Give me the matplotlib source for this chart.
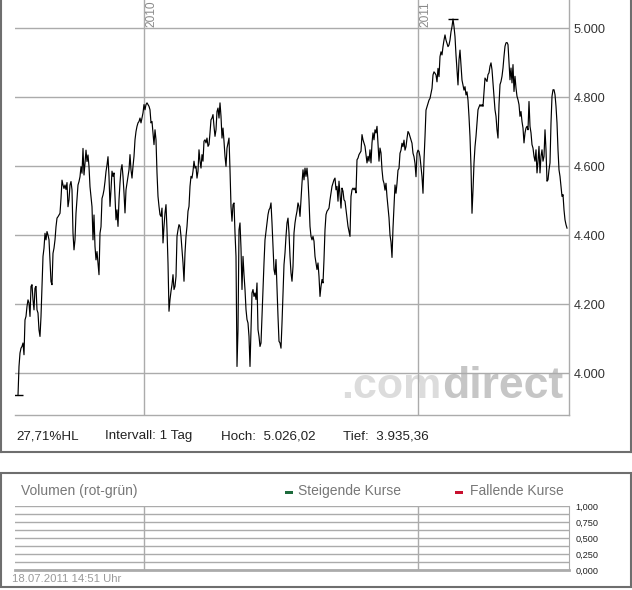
import numpy as np
import pandas as pd
import matplotlib
matplotlib.use("Agg")
import matplotlib.pyplot as plt
import matplotlib.dates as mdates
from matplotlib.patches import Rectangle
from matplotlib.lines import Line2D
from matplotlib.ticker import FixedLocator, FuncFormatter

# ---------------- data (closing prices) ----------------
close_part1 = [3935, 4019, 4058, 4072, 4077, 4087, 4053, 4154, 4164, 4193,
               4212, 4203, 4164, 4251, 4256, 4212, 4183, 4246, 4251, 4183,
               4174, 4125, 4106, 4164, 4251, 4338, 4362, 4405, 4386, 4410,
               4400, 4386, 4328, 4265, 4256, 4347, 4362, 4386, 4424, 4449,
               4453, 4458, 4463, 4506, 4559, 4545, 4535, 4545, 4532, 4552,
               4482, 4502, 4545, 4555, 4531, 4405, 4357, 4386, 4463, 4502,
               4545, 4555, 4569, 4598, 4579, 4651, 4574, 4608, 4646, 4613,
               4632, 4598, 4540, 4511, 4482, 4386, 4458, 4367, 4328, 4352,
               4318, 4285, 4405, 4424, 4506, 4516, 4531, 4555, 4584, 4603,
               4627]
close_part2 = [4570, 4483, 4531, 4585, 4570, 4580, 4512, 4444, 4473, 4425,
               4502, 4551, 4589, 4604, 4570, 4522, 4464, 4531, 4551, 4570,
               4589, 4633, 4589, 4565, 4599, 4628, 4676, 4700, 4715, 4725,
               4729, 4739, 4725, 4739, 4754, 4778, 4763, 4778, 4783, 4778,
               4773, 4763, 4725, 4729, 4696, 4662, 4705, 4676, 4580, 4512,
               4483, 4459, 4454, 4478, 4377, 4425, 4464, 4488, 4415, 4319,
               4179, 4213, 4237, 4256, 4285, 4242, 4251, 4280, 4396, 4415,
               4430, 4425, 4396, 4357, 4319, 4266, 4348, 4396, 4425, 4469,
               4483, 4541, 4570, 4565, 4585, 4614, 4594, 4599, 4565, 4585,
               4647]
close_part3 = [4614, 4594, 4633, 4614, 4672, 4676, 4667, 4681, 4657, 4662,
               4696, 4734, 4739, 4749, 4715, 4686, 4705, 4758, 4768, 4739,
               4783, 4744, 4681, 4710, 4672, 4628, 4599, 4652, 4667, 4681,
               4589, 4483, 4440, 4488, 4493, 4406, 4338, 4019, 4126, 4415,
               4435, 4362, 4242, 4338, 4285, 4242, 4184, 4155, 4145, 4106,
               4019, 4126, 4232, 4242, 4222, 4232, 4213, 4261, 4126, 4106,
               4077, 4087, 4164, 4242, 4319, 4386, 4411, 4435, 4459, 4473,
               4478, 4493, 4435, 4367, 4300, 4285, 4329, 4242, 4164, 4092,
               4087, 4072, 4145, 4232, 4314, 4348, 4396, 4435, 4449, 4406,
               4338, 4290]
close_part4 = [4266, 4309, 4406, 4435, 4454, 4469, 4493, 4483, 4454, 4502,
               4551, 4589, 4560, 4594, 4570, 4594, 4560, 4502, 4425, 4396,
               4386, 4396, 4382, 4338, 4319, 4300, 4319, 4280, 4222, 4251,
               4271, 4261, 4329, 4415, 4459, 4469, 4473, 4478, 4502, 4522,
               4541, 4551, 4560, 4565, 4531, 4541, 4498, 4556, 4517, 4478,
               4536, 4527, 4502, 4498, 4473, 4449, 4425, 4411, 4396, 4512,
               4531, 4536, 4531, 4536, 4522, 4618, 4623, 4633, 4638, 4643,
               4691, 4676, 4667, 4657, 4633, 4609, 4628, 4614, 4647, 4609,
               4667, 4696, 4676, 4705, 4696, 4715, 4662, 4614, 4652, 4638,
               4589, 4560]
close_part5 = [4550, 4530, 4550, 4511, 4482, 4450, 4400, 4380, 4335, 4420,
               4480, 4545, 4521, 4550, 4588, 4593, 4637, 4646, 4666, 4656,
               4675, 4646, 4656, 4680, 4700, 4695, 4685, 4675, 4666, 4637,
               4627, 4608, 4569, 4637, 4646, 4642, 4627, 4598, 4569, 4521,
               4617, 4685, 4762, 4772, 4782, 4791, 4796, 4811, 4825, 4864,
               4873, 4869, 4864, 4844, 4883, 4859, 4917, 4931, 4922, 4946,
               4965, 4980, 4965, 4956, 4946, 4951, 4965, 4989, 5004, 5026,
               5004, 4975, 4922, 4878, 4835, 4907, 4936, 4893, 4849, 4835,
               4820, 4830, 4806, 4815, 4791, 4743, 4685, 4598, 4463, 4530,
               4608, 4656]
close_part6 = [4686, 4725, 4763, 4771, 4778, 4773, 4778, 4773, 4812, 4855,
               4850, 4845, 4865, 4870, 4889, 4899, 4879, 4841, 4802, 4763,
               4744, 4705, 4681, 4778, 4836, 4845, 4860, 4884, 4918, 4947,
               4957, 4958, 4952, 4899, 4850, 4884, 4841, 4894, 4816, 4860,
               4826, 4802, 4792, 4778, 4744, 4758, 4729, 4710, 4667, 4696,
               4710, 4715, 4705, 4787, 4715, 4696, 4662, 4652, 4628, 4614,
               4647, 4580, 4614, 4657, 4580, 4628, 4647, 4614, 4628, 4705,
               4647, 4556, 4560, 4589, 4609, 4725, 4802, 4821, 4821, 4807,
               4773, 4725, 4647, 4589, 4570, 4541, 4512, 4517, 4473, 4444,
               4430, 4420]

start_date = "2009-07-18"
end_date = "2011-07-18"
year_marks = ["2010", "2011"]
price_ticks = [4000, 4200, 4400, 4600, 4800, 5000]
volume_ticks = [0.0, 0.25, 0.5, 0.75, 1.0]
volume_grid = [0.125, 0.375, 0.625, 0.875]
info_texts = ["27,71%HL", "Intervall: 1 Tag", "Hoch:  5.026,02", "Tief:  3.935,36"]
volume_title = "Volumen (rot-grün)"
legend_labels = ["Steigende Kurse", "Fallende Kurse"]
legend_colors = ["#1d6b3c", "#c8102e"]
timestamp = "18.07.2011 14:51 Uhr"

close = np.array(close_part1 + close_part2 + close_part3 +
                 close_part4 + close_part5 + close_part6, dtype=float)
dates = pd.date_range(start_date, end_date, periods=len(close))
xnum = mdates.date2num(dates.to_pydatetime())

# ---------------- layout helpers ----------------
W, H = 632, 590
FONT = "Liberation Sans"
GRID = "#ababab"
BORDER = "#6e6e6e"

fig = plt.figure(figsize=(W / 100, H / 100), dpi=100)
fig.patch.set_facecolor("white")


def fx(px):
    return px / W


def fy(py):
    return 1 - py / H


def de_fmt(v, decimals):
    s = f"{v:,.{decimals}f}"
    return s.replace(",", "X").replace(".", ",").replace("X", ".")


step = (xnum[-1] - xnum[0]) / (len(xnum) - 1)
xlim = (xnum[0] - 3 * step, xnum[-1] + 2 * step)
year_nums = [mdates.date2num(pd.Timestamp(f"{y}-01-01").to_pydatetime()) for y in year_marks]

# ---------------- price panel ----------------
ax = fig.add_axes([fx(15), fy(415), (569 - 15) / W, 415 / H])
ax.set_facecolor("white")
ax.plot(xnum, close, color="black", lw=0.85, zorder=3)
imin, imax = int(np.argmin(close)), int(np.argmax(close))
ax.plot([xnum[imin], xnum[imax]], [close[imin], close[imax]], ls="none",
        marker="_", ms=7.5, mew=1.0, color="black", zorder=4)
ax.set_xlim(*xlim)
ax.set_ylim(3878.3, 5081.2)

ax.yaxis.set_major_locator(FixedLocator(price_ticks))
ax.yaxis.set_major_formatter(FuncFormatter(lambda v, p: de_fmt(v, 0)))
ax.yaxis.tick_right()
ax.tick_params(axis="y", length=0, pad=3.6, labelsize=9.2, labelcolor="#333333")
for lab in ax.get_yticklabels():
    lab.set_fontfamily(FONT)
ax.set_xticks([])
ax.grid(axis="y", color=GRID, lw=1.0, zorder=1)
for xv, lab in zip(year_nums, year_marks):
    ax.axvline(xv, color=GRID, lw=1.0, zorder=1)
    ax.annotate(lab, xy=(xv, 1 - 27 / 415), xycoords=ax.get_xaxis_transform(),
                xytext=(1.2, 0), textcoords="offset points", rotation=90,
                ha="left", va="bottom", fontsize=8.6, color="#8a8a8a",
                family=FONT, annotation_clip=False, zorder=2)
for s in ["top", "left"]:
    ax.spines[s].set_visible(False)
for s in ["right", "bottom"]:
    ax.spines[s].set_color(GRID)
    ax.spines[s].set_linewidth(1.0)

# watermark
ax.text(fx(441), fy(398), ".com", transform=fig.transFigure, ha="right",
        va="baseline", fontsize=31, color="#dcdcdc", family=FONT,
        fontweight="bold", zorder=0.5)
ax.text(fx(563), fy(398), "direct", transform=fig.transFigure, ha="right",
        va="baseline", fontsize=32, color="#c6c6c6", family=FONT,
        fontweight="bold", zorder=0.5)

# info row
for xp, t in zip([16, 105, 221, 343], info_texts):
    fig.text(fx(xp), fy(439.5), t, ha="left", va="baseline", fontsize=9.6,
             color="#222222", family=FONT)

# price panel border
fig.add_artist(Line2D([fx(1), fx(1)], [fy(452), fy(-5)], color=BORDER, lw=1.5))
fig.add_artist(Line2D([fx(630.5), fx(630.5)], [fy(452), fy(-5)], color=BORDER, lw=1.5))
fig.add_artist(Line2D([fx(1), fx(630.5)], [fy(452), fy(452)], color=BORDER, lw=1.5))

# ---------------- volume panel ----------------
fig.add_artist(Rectangle((fx(1), fy(587)), (630.5 - 1) / W, (587 - 472.5) / H,
                         transform=fig.transFigure, fill=False, ec=BORDER, lw=1.5))
fig.text(fx(21), fy(495), volume_title, ha="left", va="baseline", fontsize=10,
         color="#777777", family=FONT)
for xd, xt, lab, col in zip([285, 455], [298, 470], legend_labels, legend_colors):
    fig.add_artist(Rectangle((fx(xd), fy(493.5)), 8 / W, 2.5 / H,
                             transform=fig.transFigure, color=col, lw=0))
    fig.text(fx(xt), fy(495), lab, ha="left", va="baseline", fontsize=10,
             color="#777777", family=FONT)

ax2 = fig.add_axes([fx(15), fy(570), (569 - 15) / W, 64 / H])
ax2.set_xlim(*xlim)
ax2.set_ylim(0, 1)
ax2.set_xticks([])
ax2.yaxis.set_major_locator(FixedLocator(volume_ticks))
ax2.yaxis.set_minor_locator(FixedLocator(volume_grid))
ax2.yaxis.set_major_formatter(FuncFormatter(lambda v, p: de_fmt(v, 3)))
ax2.yaxis.tick_right()
ax2.tick_params(axis="y", which="both", length=0, pad=4.5, labelsize=6.6,
                labelcolor="#222222")
for lab in ax2.get_yticklabels():
    lab.set_fontfamily(FONT)
ax2.grid(axis="y", which="both", color=GRID, lw=1.0)
for xv in year_nums:
    ax2.axvline(xv, color=GRID, lw=1.0)
ax2.spines["top"].set_visible(False)
ax2.spines["left"].set_visible(False)
ax2.spines["right"].set_color(GRID)
ax2.spines["bottom"].set_color(GRID)
ax2.spines["bottom"].set_linewidth(2.0)

fig.text(fx(12), fy(582), timestamp, ha="left", va="baseline", fontsize=8.2,
         color="#9a9a9a", family=FONT)

fig.savefig("out.png", dpi=100, facecolor="white")
